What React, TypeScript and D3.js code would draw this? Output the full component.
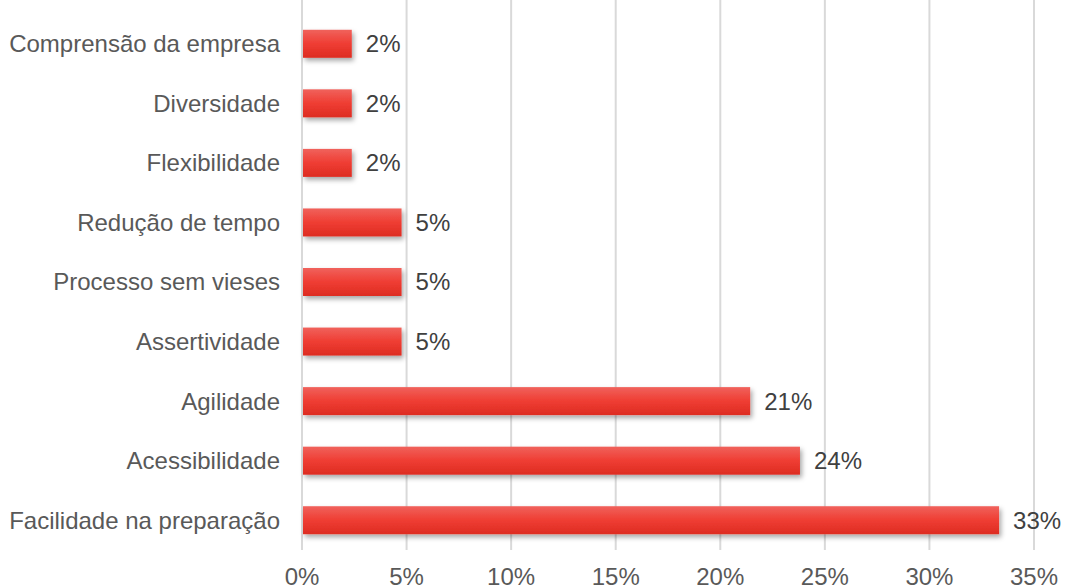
import React from "react";
import * as d3 from "d3";

const categories = [
  "Comprensão da empresa",
  "Diversidade",
  "Flexibilidade",
  "Redução de tempo",
  "Processo sem vieses",
  "Assertividade",
  "Agilidade",
  "Acessibilidade",
  "Facilidade na preparação",
];
const values = [2.38, 2.38, 2.38, 4.76, 4.76, 4.76, 21.43, 23.81, 33.33];
const ticks = [0, 5, 10, 15, 20, 25, 30, 35];

const W = 1066;
const H = 587;
const margin = { left: 302, right: 32, top: 14, bottom: 37 };

export default function App() {
  const x = d3.scaleLinear().domain([0, 35]).range([margin.left, W - margin.right]);
  const y = d3
    .scaleBand<string>()
    .domain(categories)
    .range([margin.top, H - margin.bottom])
    .paddingInner(0.53)
    .paddingOuter(0.265);
  const font = "'Liberation Sans', Arial, sans-serif";
  const fs = 24;
  return (
    <svg
      width={W}
      height={H}
      style={{ position: "absolute", left: 0, top: 0, background: "#fff" }}
      fontFamily={font}
    >
      <defs>
        <linearGradient id="barGrad" x1="0" y1="0" x2="0" y2="1">
          <stop offset="0%" stopColor="#f0625c" />
          <stop offset="50%" stopColor="#ef3d33" />
          <stop offset="100%" stopColor="#dd2c22" />
        </linearGradient>
        <filter id="shadow" x="-10%" y="-30%" width="130%" height="180%">
          <feDropShadow dx="2" dy="3" stdDeviation="2.5" floodColor="#000" floodOpacity="0.35" />
        </filter>
      </defs>
      {ticks.map((t) => (
        <g key={t}>
          <line
            x1={x(t)}
            x2={x(t)}
            y1={0}
            y2={H - margin.bottom}
            stroke="#d9d9d9"
            strokeWidth={2}
          />
          <text
            x={x(t)}
            y={585}
            textAnchor="middle"
            fontSize={fs}
            fill="#595959"
          >
            {t}%
          </text>
        </g>
      ))}
      {categories.map((c, i) => {
        const y0 = y(c)!;
        const bh = y.bandwidth();
        return (
          <g key={c}>
            <rect
              x={x(0) + 1}
              y={y0}
              width={x(values[i]) - x(0) - 1}
              height={bh}
              fill="url(#barGrad)"
              filter="url(#shadow)"
            />
            <text
              x={x(values[i]) + 14}
              y={y0 + bh / 2}
              dy="0.35em"
              fontSize={fs}
              fill="#404040"
            >
              {Math.round(values[i])}%
            </text>
            <text
              x={280}
              y={y0 + bh / 2}
              dy="0.35em"
              textAnchor="end"
              fontSize={fs}
              fill="#595959"
            >
              {c}
            </text>
          </g>
        );
      })}
    </svg>
  );
}
